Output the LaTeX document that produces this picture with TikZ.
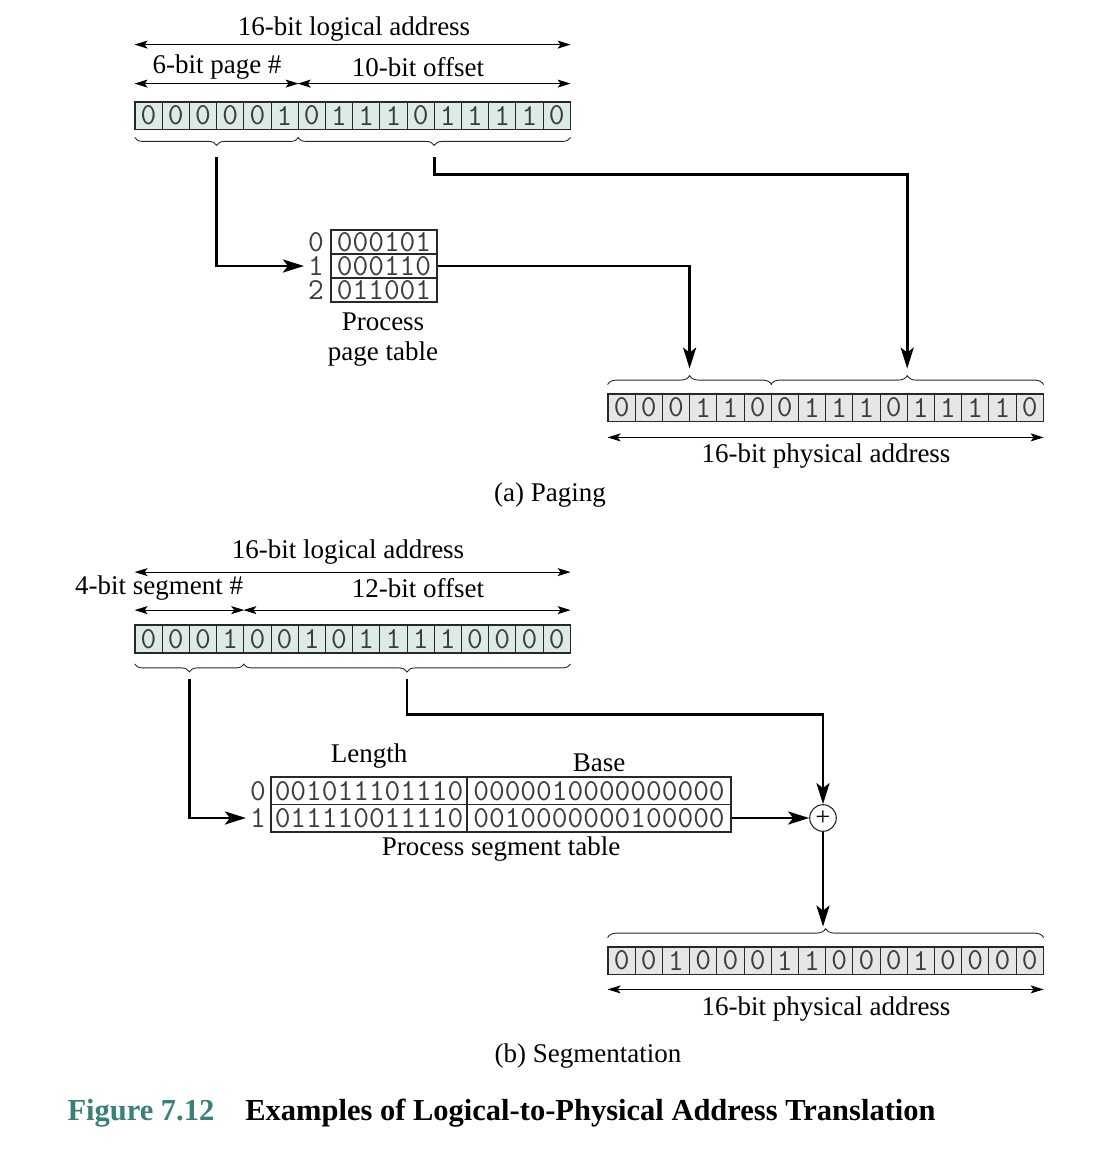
\documentclass[tikz,border=0pt]{standalone}
\usepackage{fontspec}
\setmainfont{Liberation Serif}
\usetikzlibrary{arrows.meta,calc,decorations.pathreplacing}
\definecolor{logfill}{RGB}{220,234,232}
\definecolor{physfill}{RGB}{230,230,230}
\definecolor{figteal}{RGB}{56,128,120}
\definecolor{cellline}{RGB}{40,40,40}
\definecolor{bitink}{RGB}{60,60,60}
\newcommand{\lblfont}{\fontsize{27}{30}\selectfont}
\newcommand{\bitfont}{\fontsize{30.5}{30}\selectfont\ttfamily}

\begin{document}
\begin{tikzpicture}[x=1pt, y=-1pt,
    bitcell/.style={draw=cellline, line width=0.8pt, minimum width=27.2pt, minimum height=27pt, inner sep=0pt, text=bitink, font=\bitfont},
    regframe/.style={draw=cellline, line width=1.6pt},
    tabcell/.style={draw=cellline, line width=1.1pt, minimum height=27pt, inner sep=0pt, text=bitink, font=\bitfont},
    idx/.style={inner sep=0pt, text=bitink, font=\bitfont},
    lbl/.style={font=\lblfont},
    dimarrow/.style={line width=0.9pt, {Stealth[length=13pt,width=8pt,inset=3pt]}-{Stealth[length=13pt,width=8pt,inset=3pt]}},
    conn/.style={line width=2.9pt, -{Stealth[length=21pt,width=13pt,inset=5pt]}},
    brc/.style={decorate, decoration={brace, amplitude=9pt}, line width=0.9pt, draw=cellline},
    mbrc/.style={decorate, decoration={brace, amplitude=8pt, mirror}, line width=0.9pt, draw=cellline}]

    \useasboundingbox (0,0) rectangle (1118,1162);

    % 1. (a) Paging: logical address register
    \foreach \b [count=\i from 0] in {0,0,0,0,0,1,0,1,1,1,0,1,1,1,1,0}
        \node[bitcell, fill=logfill] (la\i) at (148.6+\i*27.2, 115.5) {\b};
    \draw[regframe] (la0.north west) rectangle (la15.south east);

    \draw[dimarrow] ([yshift=57pt]la0.north west) -- ([yshift=57pt]la15.north east);
    \node[lbl] at (354,29) {16-bit logical address};
    \draw[dimarrow] ([yshift=18pt]la0.north west) -- ([yshift=18pt]la5.north east);
    \draw[dimarrow] ([yshift=18pt]la6.north west) -- ([yshift=18pt]la15.north east);
    \node[lbl] at (217,67) {6-bit page \#};
    \node[lbl] at (418,67) {10-bit offset};

    \draw[mbrc] ([yshift=-8pt]la0.south west) -- ([yshift=-8pt]la5.south east);
    \draw[mbrc] ([yshift=-8pt]la6.south west) -- ([yshift=-8pt]la15.south east);
    \coordinate (pgtip) at ($(la0.south west)!0.5!(la5.south east)+(0,28)$);
    \coordinate (offtip) at ($(la6.south west)!0.5!(la15.south east)+(0,28)$);

    % 2. Process page table
    \node[tabcell, minimum width=106pt, minimum height=24pt] (pt0) at (384,242) {000101};
    \node[tabcell, minimum width=106pt, minimum height=24pt] (pt1) at (384,266) {000110};
    \node[tabcell, minimum width=106pt, minimum height=24pt] (pt2) at (384,290) {011001};
    \draw[regframe, line width=1.1pt] (pt0.north west) rectangle (pt2.south east);
    \node[idx] (pidx0) at (316,242) {0};
    \node[idx] (pidx1) at (316,266) {1};
    \node[idx] (pidx2) at (316,290) {2};
    \node[lbl, align=center] at (383,340) {Process\\page table};

    % 3. Physical address register
    \foreach \b [count=\i from 0] in {0,0,0,1,1,0,0,1,1,1,0,1,1,1,1,0}
        \node[bitcell, fill=physfill] (pa\i) at (621.6+\i*27.2, 407.5) {\b};
    \draw[regframe] (pa0.north west) rectangle (pa15.south east);

    \draw[brc] ([yshift=9pt]pa0.north west) -- ([yshift=9pt]pa5.north east);
    \draw[brc] ([yshift=9pt]pa6.north west) -- ([yshift=9pt]pa15.north east);
    \coordinate (ptip1) at ($(pa0.north west)!0.5!(pa5.north east)+(0,-25)$);
    \coordinate (ptip2) at ($(pa6.north west)!0.5!(pa15.north east)+(0,-25)$);

    \draw[dimarrow] ([yshift=-16pt]pa0.south west) -- ([yshift=-16pt]pa15.south east);
    \node[lbl] at (826,456) {16-bit physical address};
    \node[lbl] at (550,495) {(a) Paging};

    % 4. Paging connectors
    \draw[conn, shorten >=4pt] (pgtip) |- (pidx1.west);
    \draw[conn] (pt1.east) -| (ptip1);
    \draw[conn] (offtip) -- ++(0,17) -| (ptip2);

    % 5. (b) Segmentation: logical address register
    \foreach \b [count=\i from 0] in {0,0,0,1,0,0,1,0,1,1,1,1,0,0,0,0}
        \node[bitcell, fill=logfill] (lb\i) at (148.6+\i*27.2, 639) {\b};
    \draw[regframe] (lb0.north west) rectangle (lb15.south east);

    \draw[dimarrow] ([yshift=53pt]lb0.north west) -- ([yshift=53pt]lb15.north east);
    \node[lbl] at (348,552) {16-bit logical address};
    \draw[dimarrow] ([yshift=15pt]lb0.north west) -- ([yshift=15pt]lb3.north east);
    \draw[dimarrow] ([yshift=15pt]lb4.north west) -- ([yshift=15pt]lb15.north east);
    \node[lbl] at (159,588) {4-bit segment \#};
    \node[lbl] at (418,588) {12-bit offset};

    \draw[mbrc] ([yshift=-11pt]lb0.south west) -- ([yshift=-11pt]lb3.south east);
    \draw[mbrc] ([yshift=-11pt]lb4.south west) -- ([yshift=-11pt]lb15.south east);
    \coordinate (sgtip) at ($(lb0.south west)!0.5!(lb3.south east)+(0,26)$);
    \coordinate (sofftip) at ($(lb4.south west)!0.5!(lb15.south east)+(0,26)$);

    % 6. Process segment table
    \node[tabcell, minimum width=196pt] (slen0) at (369,791) {001011101110};
    \node[tabcell, minimum width=264pt] (sbase0) at (599,791) {0000010000000000};
    \node[tabcell, minimum width=196pt] (slen1) at (369,818) {011110011110};
    \node[tabcell, minimum width=264pt] (sbase1) at (599,818) {0010000000100000};
    \draw[regframe, line width=1.1pt] (slen0.north west) rectangle (sbase1.south east);
    \node[idx] (sidx0) at (258,791) {0};
    \node[idx] (sidx1) at (258,818) {1};
    \node[lbl] at (369,756) {Length};
    \node[lbl] at (599,763) {Base};
    \node[lbl] at (501,849) {Process segment table};

    \node[draw=cellline, circle, line width=1.1pt, minimum size=26.6pt, inner sep=0pt, font=\fontsize{26}{26}\selectfont] (adder) at (823,818) {+};

    % 7. Physical address register
    \foreach \b [count=\i from 0] in {0,0,1,0,0,0,1,1,0,0,0,1,0,0,0,0}
        \node[bitcell, fill=physfill] (pb\i) at (621.6+\i*27.2, 960.5) {\b};
    \draw[regframe] (pb0.north west) rectangle (pb15.south east);

    \draw[brc] ([yshift=9pt]pb0.north west) -- ([yshift=9pt]pb15.north east);
    \coordinate (pbtip) at ($(pb0.north west)!0.5!(pb15.north east)+(0,-20)$);

    \draw[dimarrow] ([yshift=-15pt]pb0.south west) -- ([yshift=-15pt]pb15.south east);
    \node[lbl] at (826,1009) {16-bit physical address};
    \node[lbl] at (588,1056) {(b) Segmentation};

    % 8. Segmentation connectors
    \draw[conn, shorten >=4pt] (sgtip) |- (sidx1.west);
    \draw[conn] (sofftip) -- ++(0,36) -| (adder.north);
    \draw[conn] (sbase1.east) -- (adder.west);
    \draw[conn] (adder.south) -- (adder.south |- pbtip);

    % 9. Caption
    \node[anchor=west, font=\fontsize{30.5}{33}\selectfont\bfseries] at (64,1113)
        {\textcolor{figteal}{Figure 7.12}\hspace{31pt}Examples of Logical-to-Physical Address Translation};

\end{tikzpicture}
\end{document}
